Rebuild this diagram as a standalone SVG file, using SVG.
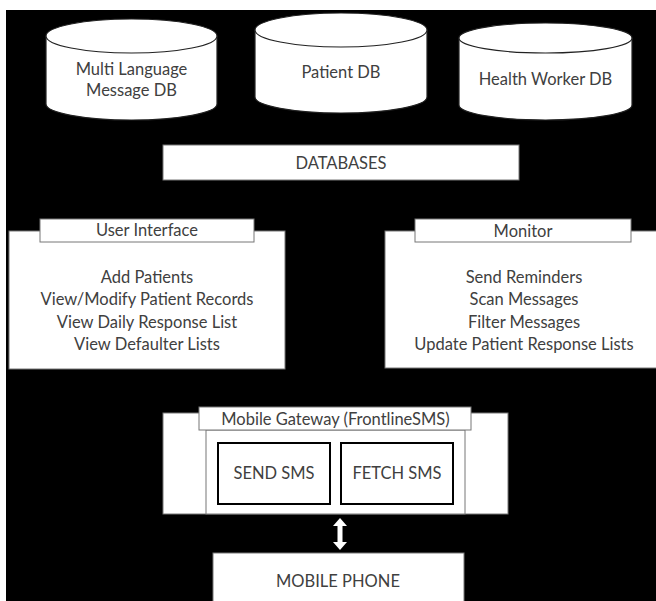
<svg xmlns="http://www.w3.org/2000/svg" width="656" height="601" viewBox="0 0 656 601">
<style>
text{font-family:Lato,"Liberation Sans",sans-serif;font-size:16.5px;fill:#404040;text-anchor:middle}
.cyl{fill:#fff;stroke:#222;stroke-width:1.2}
.box{fill:#fff;stroke:#777;stroke-width:1}
.sms{fill:#fff;stroke:#000;stroke-width:2}
</style>
<rect x="0" y="0" width="656" height="601" fill="#fff"/>
<rect x="6" y="10" width="650" height="591" fill="#000"/>
<g id="db-multilang">
<path class="cyl" d="M46,36 A85.5,17 0 0 1 217,36 L217,104 A85.5,16 0 0 1 46,104 Z"/>
<path class="cyl" fill="none" d="M46,36 A85.5,17 0 0 0 217,36"/>
<text x="131.5" y="75">Multi Language</text>
<text x="131.5" y="96">Message DB</text>
</g>
<g id="db-patient">
<path class="cyl" d="M255,30 A86,17 0 0 1 427,30 L427,97 A86,16 0 0 1 255,97 Z"/>
<path class="cyl" fill="none" d="M255,30 A86,17 0 0 0 427,30"/>
<text x="341" y="78">Patient DB</text>
</g>
<g id="db-healthworker">
<path class="cyl" d="M459,38 A86.5,15 0 0 1 632,38 L632,105 A86.5,15 0 0 1 459,105 Z"/>
<path class="cyl" fill="none" d="M459,38 A86.5,15 0 0 0 632,38"/>
<text x="545.5" y="85">Health Worker DB</text>
</g>
<g id="databases">
<rect class="box" x="163" y="145" width="356" height="35"/>
<text x="341" y="169">DATABASES</text>
</g>
<g id="user-interface">
<rect class="box" x="9" y="231" width="276" height="138"/>
<rect class="box" x="40" y="219" width="214" height="23"/>
<text x="147" y="236">User Interface</text>
<text x="147" y="283">Add Patients</text>
<text x="147" y="305">View/Modify Patient Records</text>
<text x="147" y="328">View Daily Response List</text>
<text x="147" y="350">View Defaulter Lists</text>
</g>
<g id="monitor">
<rect class="box" x="385" y="231" width="275" height="137"/>
<rect class="box" x="415" y="219" width="216" height="23"/>
<text x="523" y="237">Monitor</text>
<text x="524" y="283">Send Reminders</text>
<text x="524" y="305">Scan Messages</text>
<text x="524" y="328">Filter Messages</text>
<text x="524" y="350">Update Patient Response Lists</text>
</g>
<g id="mobile-gateway">
<rect class="box" x="163" y="413" width="345" height="101"/>
<rect class="box" x="206" y="430" width="259" height="84" stroke-width="1.5"/>
<rect class="box" x="199" y="407" width="272" height="23"/>
<text x="335.5" y="425">Mobile Gateway (FrontlineSMS)</text>
</g>
<g id="send-sms">
<rect class="sms" x="218" y="443" width="112" height="61"/>
<text x="274" y="479">SEND SMS</text>
</g>
<g id="fetch-sms">
<rect class="sms" x="341" y="443" width="112" height="61"/>
<text x="397" y="479">FETCH SMS</text>
</g>
<g id="mobile-phone">
<rect class="box" x="213" y="553" width="251" height="52"/>
<text x="338" y="587">MOBILE PHONE</text>
</g>
<g id="connectors">
<polygon fill="#fff" points="340,518 347,526 342.5,526 342.5,542 347,542 340,550 333,542 337.5,542 337.5,526 333,526"/>
</g>
</svg>
